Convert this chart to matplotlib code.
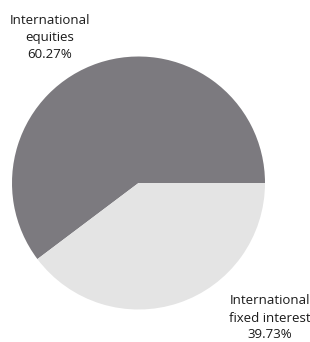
import matplotlib
matplotlib.use("Agg")
import matplotlib.pyplot as plt

categories = ["International\nequities", "International\nfixed interest"]
values = [60.27, 39.73]
colors = ["#7c7a7f", "#e4e4e4"]

fig = plt.figure(figsize=(3.10, 3.42), dpi=100)
ax = fig.add_axes([0, 0, 1, 1])

ax.pie(values, colors=colors, startangle=0, counterclock=True,
       center=(138.5, 159), radius=126.5, frame=True,
       wedgeprops=dict(linewidth=0))
ax.set_xlim(0, 310)
ax.set_ylim(0, 342)
ax.set_aspect("equal")
ax.axis("off")

label_pos = [(50, 305), (270, 24)]
for cat, v, (x, y) in zip(categories, values, label_pos):
    ax.text(x, y, f"{cat}\n{v:.2f}%", ha="center", va="center",
            fontsize=9.5, family="Open Sans", color="#1a1a1a",
            linespacing=1.4)

fig.savefig("out.png", dpi=100)
